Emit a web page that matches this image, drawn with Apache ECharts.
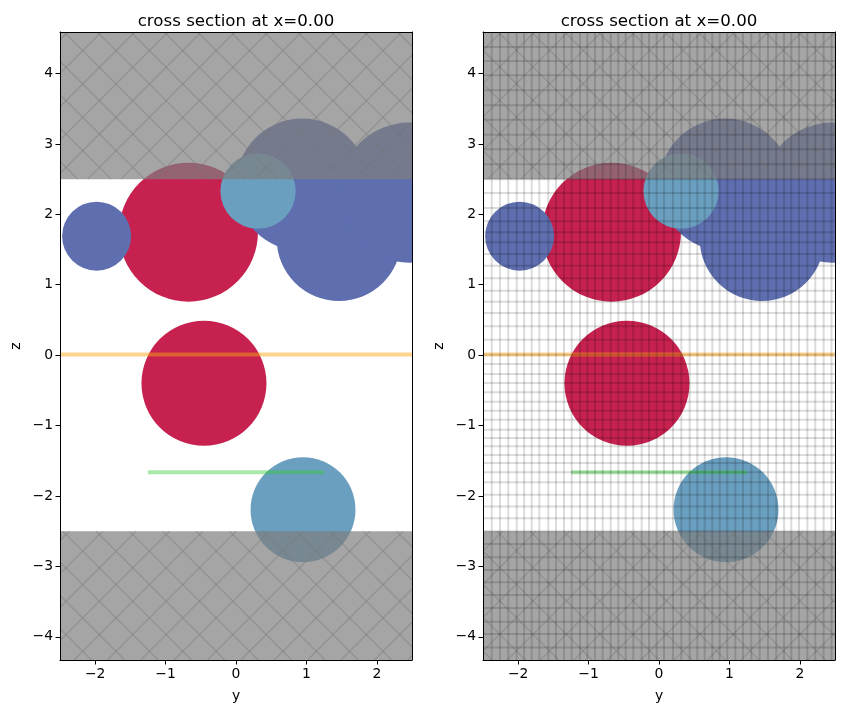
<!DOCTYPE html>
<html lang="en">
<head>
<meta charset="utf-8" />
<title>cross section at x=0.00</title>
<script src="https://cdn.jsdelivr.net/npm/echarts@6/dist/echarts.min.js"></script>
<style>
  html, body { margin: 0; padding: 0; background: #fff; }
  #main { width: 844px; height: 713px; }
</style>
</head>
<body>
<div id="main"></div>
<script>
// limits of both panels
var yMin = -2.5, yMax = 2.5, zMin = -4.33, zMax = 4.59;
var yTicks = [-2, -1, 0, 1, 2];
var zTicks = [-4, -3, -2, -1, 0, 1, 2, 3, 4];
var titleText = 'cross section at x=0.00';

// circles: centre y, centre z, radius
var redY = [-0.675, -0.455];
var redZ = [1.747, -0.4];
var redR = [0.987, 0.888];
var blueY = [-1.98, 0.94, 1.463, 2.457];
var blueZ = [1.69, 2.42, 1.655, 2.308];
var blueR = [0.49, 0.94, 0.885, 0.995];
var lightY = [0.313, 0.952];
var lightZ = [2.33, -2.195];
var lightR = [0.535, 0.745];

// thin structures
var sourceLine = [[-2.5, 0.01], [2.5, 0.01]];
var monitorLine = [[-1.25, -1.665], [1.25, -1.665]];

// substrate bands
var bands = [[2.5, zMax], [zMin, -2.5]];

// mesh of the right panel
var meshY = [-2.376, -2.259, -2.141, -2.021, -1.916, -1.808, -1.7, -1.572, -1.463, -1.349, -1.24,
  -1.122, -1.018, -0.909, -0.8, -0.686, -0.578, -0.473, -0.365, -0.246, -0.142, -0.033, 0.071,
  0.199, 0.317, 0.436, 0.544, 0.649, 0.757, 0.862, 0.97, 1.084, 1.193, 1.311, 1.43, 1.548,
  1.666, 1.776, 1.879, 1.989, 2.107, 2.22, 2.339, 2.45];
var meshZ = [4.378, 4.179, 3.974, 3.761, 3.548, 3.345, 3.132, 2.923, 2.71, 2.5, 2.304, 2.091,
  1.901, 1.744, 1.602, 1.438, 1.271, 1.091, 0.916, 0.76, 0.599, 0.409, 0.22, 0.007, -0.125,
  -0.267, -0.395, -0.528, -0.661, -0.788, -0.916, -1.058, -1.176, -1.295, -1.418, -1.531,
  -1.665, -1.807, -1.982, -2.148, -2.318, -2.503, -2.682, -2.872, -3.051, -3.227, -3.406,
  -3.591, -3.786, -3.96, -4.151];

// hatch phase for each panel (y-z and y+z of one line), and distance between lines
var hatchPhase = [[-6.503, 2.148], [-6.357, 1.83]];
var hatchStep = 0.474;

var RED = '#c6214f', BLUE = '#5e6eaf', LIGHT = '#6a9fbf';
var FONT = 'DejaVu Sans';

function circleSeries(panel, ys, zs, rs, color, z) {
  return {
    type: 'custom', xAxisIndex: panel, yAxisIndex: panel, clip: true, z: z, silent: true,
    data: ys.map(function (v, i) { return [v, zs[i], rs[i]]; }),
    renderItem: function (params, api) {
      var c = api.coord([api.value(0), api.value(1)]);
      return {
        type: 'circle',
        shape: { cx: c[0], cy: c[1], r: api.size([api.value(2), 0])[0] },
        style: { fill: color }
      };
    }
  };
}

function lineSeries(panel, points, color, width, z) {
  return {
    type: 'line', xAxisIndex: panel, yAxisIndex: panel, data: points, z: z, silent: true,
    symbol: 'none', lineStyle: { color: color, width: width, cap: 'butt' }, clip: true
  };
}

function segmentSeries(panel, segs, color, width, z) {
  return {
    type: 'custom', xAxisIndex: panel, yAxisIndex: panel, clip: true, z: z, silent: true,
    data: segs,
    renderItem: function (params, api) {
      var a = api.coord([api.value(0), api.value(1)]);
      var b = api.coord([api.value(2), api.value(3)]);
      return {
        type: 'line',
        shape: { x1: a[0], y1: a[1], x2: b[0], y2: b[1] },
        style: { stroke: color, lineWidth: width, fill: null }
      };
    }
  };
}

function bandSeries(panel) {
  return {
    type: 'custom', xAxisIndex: panel, yAxisIndex: panel, clip: true, z: 6, silent: true,
    data: bands,
    renderItem: function (params, api) {
      var a = api.coord([yMin, api.value(1)]);
      var b = api.coord([yMax, api.value(0)]);
      return {
        type: 'rect',
        shape: { x: a[0], y: a[1], width: b[0] - a[0], height: b[1] - a[1] },
        style: { fill: 'rgba(127,127,127,0.7)' }
      };
    }
  };
}

// diagonal hatch lines cut to the two bands
function hatchSegments(panel) {
  var segs = [];
  bands.forEach(function (band) {
    for (var k = -30; k <= 30; k++) {
      var c = hatchPhase[panel][0] + k * hatchStep;
      var y1 = Math.max(yMin, band[0] + c), y2 = Math.min(yMax, band[1] + c);
      if (y1 < y2) segs.push([y1, y1 - c, y2, y2 - c]);
      c = hatchPhase[panel][1] + k * hatchStep;
      y1 = Math.max(yMin, c - band[1]);
      y2 = Math.min(yMax, c - band[0]);
      if (y1 < y2) segs.push([y1, c - y1, y2, c - y2]);
    }
  });
  return segs;
}

function panelSeries(panel) {
  return [
    circleSeries(panel, redY, redZ, redR, RED, 2),
    circleSeries(panel, blueY, blueZ, blueR, BLUE, 3),
    circleSeries(panel, lightY, lightZ, lightR, LIGHT, 4),
    lineSeries(panel, sourceLine, 'rgba(255,165,20,0.48)', 4, 5),
    lineSeries(panel, monitorLine, 'rgba(50,205,50,0.42)', 4, 5),
    bandSeries(panel),
    segmentSeries(panel, hatchSegments(panel), 'rgba(120,120,120,0.42)', 1.3, 7)
  ];
}

var meshSegs = meshY.map(function (v) { return [v, zMin, v, zMax]; })
  .concat(meshZ.map(function (v) { return [yMin, v, yMax, v]; }));

var lefts = [60, 483];
var tickFmt = function (v) { return String(v).replace('-', '\u2212'); };
var lineCfg = { show: true, onZero: false, lineStyle: { color: '#000', width: 1 } };

function xAxisCfg(i) {
  return {
    type: 'value', gridIndex: i, min: yMin, max: yMax, position: 'bottom', z: 10,
    name: 'y', nameLocation: 'middle', nameGap: 29,
    nameTextStyle: { color: '#000', fontFamily: FONT, fontSize: 13.9 },
    splitLine: { show: false }, axisLine: lineCfg,
    axisTick: { show: true, length: 4.5, customValues: yTicks, lineStyle: { color: '#000', width: 1 } },
    axisLabel: { show: true, customValues: yTicks, formatter: tickFmt, color: '#000', fontFamily: FONT, fontSize: 13.9, margin: 7, hideOverlap: false }
  };
}
function yAxisCfg(i) {
  return {
    type: 'value', gridIndex: i, min: zMin, max: zMax, position: 'left', z: 10,
    name: 'z', nameLocation: 'middle', nameGap: 37,
    nameTextStyle: { color: '#000', fontFamily: FONT, fontSize: 13.9 },
    splitLine: { show: false }, axisLine: lineCfg,
    axisTick: { show: true, length: 4.5, customValues: zTicks, lineStyle: { color: '#000', width: 1 } },
    axisLabel: { show: true, customValues: zTicks, formatter: tickFmt, color: '#000', fontFamily: FONT, fontSize: 13.9, margin: 7, padding: [2, 0, 0, 0], hideOverlap: false }
  };
}
// top and right spines
function frameAxis(i, position, min, max) {
  return {
    type: 'value', gridIndex: i, min: min, max: max, position: position, z: 10,
    splitLine: { show: false }, axisLine: lineCfg, axisTick: { show: false }, axisLabel: { show: false }
  };
}

var myChart = echarts.init(document.getElementById('main'), null, { renderer: 'canvas' });

var option = {
  backgroundColor: '#fff',
  animation: false,
  title: lefts.map(function (left) {
    return {
      text: titleText, left: left + 171, top: 8, textAlign: 'center',
      textStyle: { color: '#000', fontFamily: FONT, fontSize: 16.67, fontWeight: 'normal' }
    };
  }),
  grid: lefts.map(function (left) {
    return { left: left, top: 32, width: 352, height: 628, containLabel: false };
  }),
  xAxis: [xAxisCfg(0), xAxisCfg(1), frameAxis(0, 'top', yMin, yMax), frameAxis(1, 'top', yMin, yMax)],
  yAxis: [yAxisCfg(0), yAxisCfg(1), frameAxis(0, 'right', zMin, zMax), frameAxis(1, 'right', zMin, zMax)],
  series: panelSeries(0).concat(panelSeries(1))
    .concat([segmentSeries(1, meshSegs, 'rgba(0,0,0,0.14)', 2, 8)])
};

myChart.setOption(option);
</script>
</body>
</html>
